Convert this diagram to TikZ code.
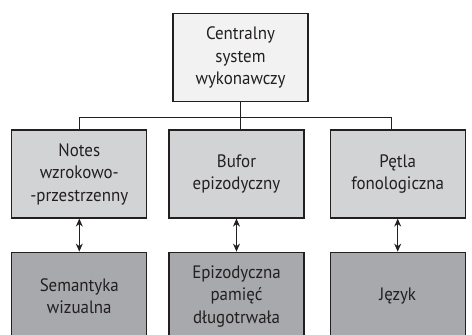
\documentclass[tikz,border=0pt]{standalone}
\usepackage{fontspec}
\setmainfont{PT Sans}[FakeStretch=0.94]
\usetikzlibrary{matrix,calc,arrows.meta}
\tikzset{>={Stealth[length=8pt,width=7pt]}}
\definecolor{edge}{HTML}{231F20}
\definecolor{topgray}{HTML}{F2F2F2}
\definecolor{midgray}{HTML}{D2D3D5}
\definecolor{lowgray}{HTML}{A7A9AC}

\begin{document}
\begin{tikzpicture}[line width=1pt,draw=edge]
        \useasboundingbox (0,0) rectangle (472pt,-335pt);
        \clip (0,0) rectangle (472pt,-335pt);
        \matrix (m) [matrix of nodes,anchor=north west,inner sep=0,row sep=27pt,column sep=21pt,
          nodes={anchor=center,draw=edge,line width=1.2pt,fill=midgray,text=edge,minimum width=135pt,minimum height=88pt,
                 text width=128pt,align=center,inner sep=0,font=\fontsize{18}{22.5}\selectfont}]
          at (10.7pt,-12.7pt) {
          &
          |[fill=topgray,xshift=4pt]| {Centralny\\system\\wykonawczy} &
          \\
          {Notes\\wzrokowo-\\-przestrzenny} &
          {Bufor\\epizodyczny} &[15pt]
          {Pętla\\fonologiczna} \\[6pt]
          |[fill=lowgray]| {Semantyka\\wizualna} &
          |[fill=lowgray]| {Epizodyczna\\pamięć\\długotrwała} &
          |[fill=lowgray]| {Język} \\
        };
        \coordinate (bus) at ($(m-1-2.south) - (0,15pt)$);
        \draw (m-1-2.south) -- (m-1-2.south |- m-2-2.north);
        \draw (m-2-1.north) |- ($(m-2-3.north |- bus) - (6pt,0)$) -- ($(m-2-3.north) - (6pt,0)$);
        \foreach \c in {1,2,3}
          \draw[<->,line width=1.1pt] (m-2-\c.south) -- (m-3-\c.north);
    \end{tikzpicture}
\end{document}
